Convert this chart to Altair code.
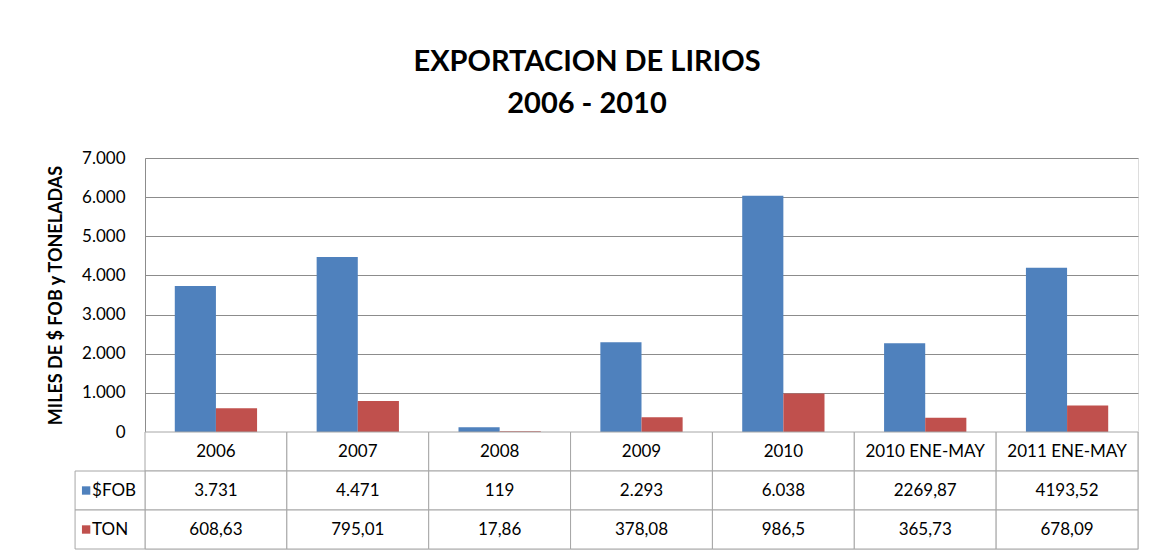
import altair as alt
import pandas as pd

# ---- data ----
categories = ["2006", "2007", "2008", "2009", "2010", "2010 ENE-MAY", "2011 ENE-MAY"]
series = ["$FOB", "TON"]
fob = [3731, 4471, 119, 2293, 6038, 2269.87, 4193.52]
ton = [608.63, 795.01, 17.86, 378.08, 986.5, 365.73, 678.09]
fob_labels = ["3.731", "4.471", "119", "2.293", "6.038", "2269,87", "4193,52"]
ton_labels = ["608,63", "795,01", "17,86", "378,08", "986,5", "365,73", "678,09"]
y_ticks = [0, 1000, 2000, 3000, 4000, 5000, 6000, 7000]
colors = ["#4f81bd", "#c0504d"]

FONT = "Lato"
GRID = "#8c8c8c"
CELL = "#a6a6a6"
LEG_W = 0.493  # legend column width, in column units

# ---- bar chart ----
rows = []
for c, f, t in zip(categories, fob, ton):
    rows.append({"cat": c, "serie": "$FOB", "valor": f})
    rows.append({"cat": c, "serie": "TON", "valor": t})
bars_df = pd.DataFrame(rows)

bar = alt.Chart(bars_df).mark_bar().encode(
    x=alt.X("cat:N", sort=categories, axis=None,
            scale=alt.Scale(paddingInner=0.42, paddingOuter=0.21)),
    xOffset=alt.XOffset("serie:N", sort=series, scale=alt.Scale(paddingInner=0)),
    y=alt.Y("valor:Q", scale=alt.Scale(domain=[0, 7000], nice=False),
            axis=alt.Axis(values=y_ticks,
                          labelExpr="replace(format(datum.value, ','), ',', '.')",
                          title="MILES DE $ FOB y TONELADAS",
                          titleFont=FONT, titleFontSize=18, titleFontWeight="bold",
                          titleColor="#000", titlePadding=16,
                          labelFont=FONT, labelFontSize=17, labelColor="#000",
                          labelPadding=20, ticks=False,
                          domainColor=GRID, gridColor=GRID, grid=True)),
    color=alt.Color("serie:N", scale=alt.Scale(domain=series, range=colors), legend=None),
).properties(width=993, height=274)

# ---- data table ----
cells = []
for i, c in enumerate(categories):
    cells.append({"x0": i, "x1": i + 1, "y0": 0, "y1": 1, "xc": i + 0.5, "yc": 0.5, "label": c})
    cells.append({"x0": i, "x1": i + 1, "y0": 1, "y1": 2, "xc": i + 0.5, "yc": 1.5, "label": fob_labels[i]})
    cells.append({"x0": i, "x1": i + 1, "y0": 2, "y1": 3, "xc": i + 0.5, "yc": 2.5, "label": ton_labels[i]})
cells_df = pd.DataFrame(cells)

leg = []
for j, s in enumerate(series):
    leg.append({"x0": -LEG_W, "x1": 0, "y0": j + 1, "y1": j + 2,
                "xs": -LEG_W + 0.078, "xt": -LEG_W + 0.12, "yc": j + 1.5, "serie": s})
leg_df = pd.DataFrame(leg)

xs = alt.Scale(domain=[0, 7], nice=False, zero=False)
ys = alt.Scale(domain=[0, 3], reverse=True, nice=False, zero=False)

cell_rect = alt.Chart(cells_df).mark_rect(fill="white", stroke=CELL, strokeWidth=1).encode(
    x=alt.X("x0:Q", scale=xs, axis=None), x2="x1:Q",
    y=alt.Y("y0:Q", scale=ys, axis=None), y2="y1:Q")
cell_text = alt.Chart(cells_df).mark_text(font=FONT, fontSize=17, color="#000", baseline="middle").encode(
    x=alt.X("xc:Q", scale=xs, axis=None), y=alt.Y("yc:Q", scale=ys, axis=None), text="label:N")
leg_rect = alt.Chart(leg_df).mark_rect(fill="white", stroke=CELL, strokeWidth=1).encode(
    x=alt.X("x0:Q", scale=xs, axis=None), x2="x1:Q",
    y=alt.Y("y0:Q", scale=ys, axis=None), y2="y1:Q")
leg_sq = alt.Chart(leg_df).mark_point(shape="square", filled=True, size=70, opacity=1).encode(
    x=alt.X("xs:Q", scale=xs, axis=None), y=alt.Y("yc:Q", scale=ys, axis=None),
    color=alt.Color("serie:N", scale=alt.Scale(domain=series, range=colors), legend=None))
leg_text = alt.Chart(leg_df).mark_text(font=FONT, fontSize=17, color="#000", align="left",
                                       baseline="middle").encode(
    x=alt.X("xt:Q", scale=xs, axis=None), y=alt.Y("yc:Q", scale=ys, axis=None), text="serie:N")

table = alt.layer(cell_rect, leg_rect, cell_text, leg_sq, leg_text).properties(width=993, height=117)

chart = alt.vconcat(bar, table, spacing=0, bounds="flush").properties(
    title=alt.TitleParams(["EXPORTACION DE LIRIOS", "2006 - 2010"], font=FONT, fontSize=29,
                          fontWeight="bold", color="#000", lineHeight=42, anchor="middle",
                          offset=30, dx=-6),
    padding={"left": 39, "top": 39, "right": 5, "bottom": 0},
).configure_view(stroke="transparent").configure(background="white")

chart.save("out.html", embed_options={"renderer": "svg", "actions": False})
